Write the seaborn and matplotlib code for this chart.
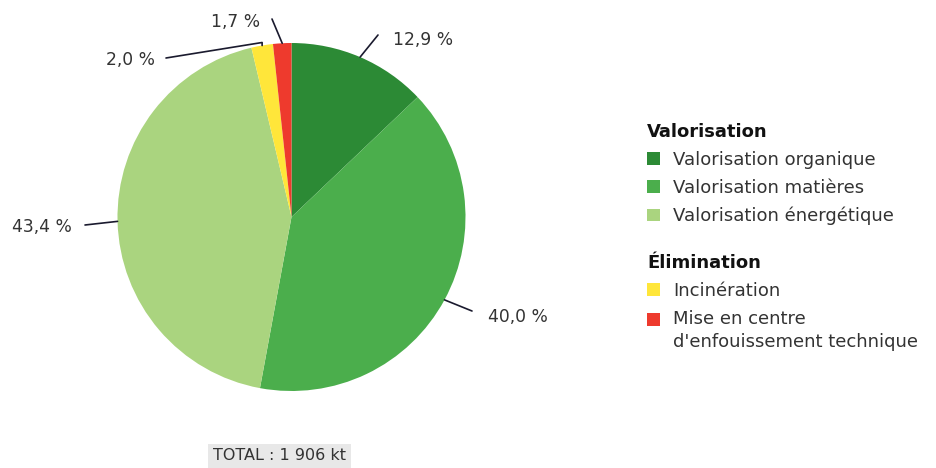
import matplotlib
matplotlib.use("Agg")
import matplotlib.pyplot as plt
import seaborn as sns
import numpy as np
from matplotlib.patches import Patch
from matplotlib.legend_handler import HandlerPatch

sns.set_theme(style="white")
plt.rcParams['font.family'] = ['DejaVu Sans']

categories = ["Valorisation organique", "Valorisation matières", "Valorisation énergétique",
              "Incinération", "Mise en centre\nd'enfouissement technique"]
values = [12.9, 40.0, 43.4, 2.0, 1.7]
labels = ["12,9 %", "40,0 %", "43,4 %", "2,0 %", "1,7 %"]
colors = ["#2c8a35", "#4bae4c", "#aad47f", "#ffe63a", "#ee3a2d"]
groups = ["Valorisation", "Valorisation", "Valorisation", "Élimination", "Élimination"]
total_text = "TOTAL : 1 906 kt"

W, H = 936, 468
fig = plt.figure(figsize=(W / 100, H / 100), dpi=100)
ax = fig.add_axes([0, 0, 1, 1])
ax.set_xlim(0, W)
ax.set_ylim(0, H)
ax.axis("off")

cx, cy, r = 291.5, H - 217, 174
wedges, _ = ax.pie(values, colors=colors, startangle=90, counterclock=False,
                   center=(cx, cy), radius=r, wedgeprops=dict(linewidth=0))
ax.set_xlim(0, W)
ax.set_ylim(0, H)

# label text positions (pixel coords, y down) and leader end points
txt_pos = [(393, 40), (488, 317), (12, 227), (106, 60), (211, 22)]
elbow = [(378, 35), (472, 311), (85, 225), (166, 58), (272, 19)]
txt_color = "#333333"
line_color = "#1a1a2e"
for i, w in enumerate(wedges):
    ang = np.deg2rad((w.theta1 + w.theta2) / 2)
    ax_, ay_ = cx + r * np.cos(ang), cy + r * np.sin(ang)
    ex, ey = elbow[i]
    ey = H - ey
    if i == 3:
        ax.plot([ex, ax_, ax_], [ey, ay_ + 3, ay_], color=line_color, lw=1.2)
    else:
        ax.plot([ax_, ex], [ay_, ey], color=line_color, lw=1.2)
    tx, ty = txt_pos[i]
    ax.text(tx, H - ty, labels[i], ha="left", va="center", fontsize=12.3, color=txt_color)

ax.text(213, H - 456, total_text, ha="left", va="center", fontsize=11.5, color=txt_color,
        bbox=dict(boxstyle="square,pad=0.3", fc="#e8e8e8", ec="none"))


class ShiftedHandler(HandlerPatch):
    def __init__(self, dy, **kw):
        super().__init__(**kw)
        self.dy = dy

    def create_artists(self, legend, orig_handle, xdescent, ydescent, width, height,
                       fontsize, trans):
        return super().create_artists(legend, orig_handle, xdescent, ydescent - self.dy,
                                      width, height, fontsize, trans)


def make_legend(group, y_px):
    idx = [i for i, g in enumerate(groups) if g == group]
    handles = [Patch(facecolor=colors[i], edgecolor="none", label=categories[i]) for i in idx]
    hmap = {}
    for h, i in zip(handles, idx):
        if "\n" in categories[i]:
            hmap[h] = ShiftedHandler(8.5)
    leg = fig.legend(handles=handles, loc="upper left", bbox_to_anchor=(647 / W, 1 - y_px / H),
                     frameon=False, title=group, alignment="left", fontsize=13,
                     title_fontproperties={"weight": "bold", "size": 13},
                     handlelength=0.72, handleheight=0.72, handletextpad=0.72,
                     labelspacing=0.55, borderpad=0, borderaxespad=0, handler_map=hmap)
    for t in leg.get_texts():
        t.set_color(txt_color)
        t.set_linespacing(1.38)
    leg.get_title().set_color("#111111")
    return leg

make_legend("Valorisation", 123)
make_legend("Élimination", 254)

fig.savefig("out.png", dpi=100)
